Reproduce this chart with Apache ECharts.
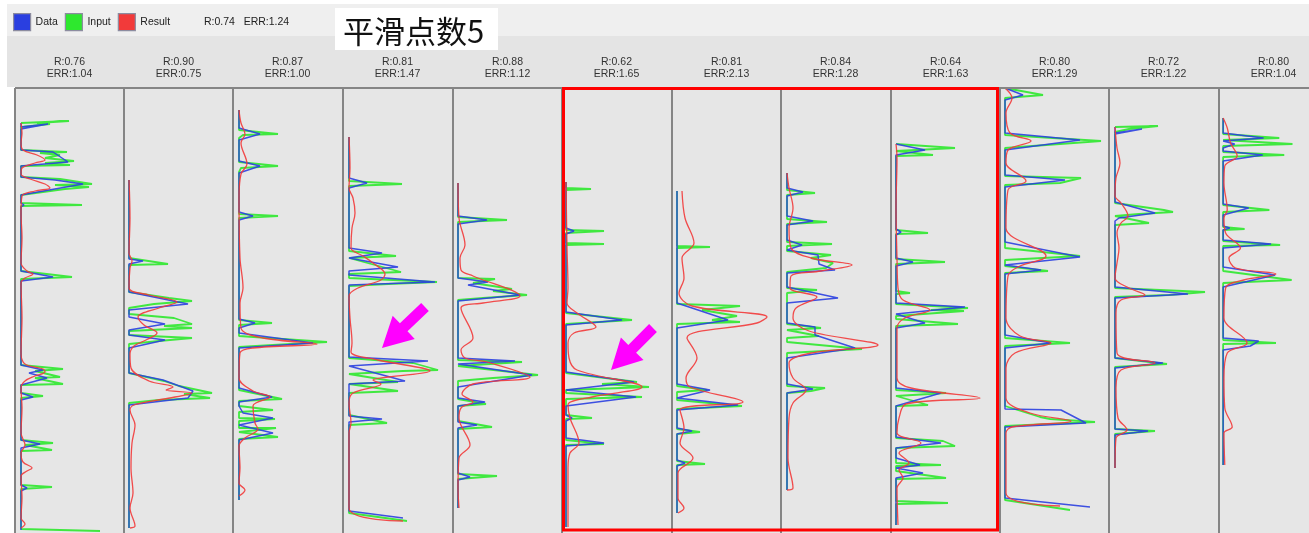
<!DOCTYPE html>
<html>
<head>
<meta charset="utf-8">
<script src="https://cdn.jsdelivr.net/npm/echarts@6/dist/echarts.min.js"></script>
<style>
  html, body { margin: 0; padding: 0; background: #ffffff; }
  #chart { width: 1309px; height: 533px; }
</style>
</head>
<body>
<div id="chart"></div>
<script>
// Legend names and the overall score shown in the header
const seriesNames = ['Data', 'Input', 'Result'];
const overallR = '0.74';
const overallErr = '1.24';
const smoothTitle = '平滑点数5';

// Per-well scores shown above each track
const panelR   = ['0.76', '0.90', '0.87', '0.81', '0.88', '0.62', '0.81', '0.84', '0.64', '0.80', '0.72', '0.80'];
const panelErr = ['1.04', '0.75', '1.00', '1.47', '1.12', '1.65', '2.13', '1.28', '1.63', '1.29', '1.22', '1.04'];

// Track curves as [value, depth] pairs (depth grows downward)
const data1 = [[6,35],[6,39],[33,36],[6,41],[6,62],[38,64],[53,74],[6,78],[6,89],[40,92],[68,96],[6,107],[6,115],[9,117],[6,119],[6,183],[38,189],[6,193],[6,277],[28,282],[14,285],[32,290],[6,297],[6,305],[18,309],[6,312],[6,352],[25,356],[6,360],[6,397],[12,400],[6,403],[6,442]];
const input1 = [[6,35],[54,33],[22,35],[35,36],[6,39],[6,41],[6,62],[52,64],[25,65],[45,67],[30,70],[59,73],[30,75],[55,77],[6,78],[6,89],[45,91],[77,96],[40,97],[74,99],[50,101],[6,107],[6,115],[67,117],[6,118],[6,183],[57,189],[6,191],[6,277],[48,281],[20,283],[45,289],[20,290],[48,296],[6,297],[6,305],[28,308],[6,310],[6,352],[38,355],[10,357],[37,362],[6,363],[6,397],[37,399],[6,401],[6,441],[85,443]];
const result1 = [[6,35],[7,45],[6,55],[8,62],[22,67],[30,72],[20,75],[7,80],[6,86],[15,91],[30,96],[35,100],[20,103],[7,108],[6,125],[7,150],[6,175],[12,183],[18,186],[10,190],[6,195],[7,230],[6,265],[10,276],[28,281],[30,284],[20,288],[10,293],[6,300],[7,320],[6,345],[10,357],[6,365],[8,374],[17,380],[12,383],[6,388],[7,410],[6,430],[10,436],[6,440]];

const data2 = [[5,92],[5,171],[19,173],[5,176],[5,204],[64,216],[5,222],[5,229],[41,236],[5,242],[5,247],[41,252],[5,260],[5,285],[39,292],[69,303],[64,310],[5,317],[5,440]];
const input2 = [[5,92],[5,170],[44,176],[5,177],[5,204],[45,210],[68,213],[30,216],[5,220],[5,226],[50,230],[68,236],[40,238],[68,240],[5,243],[5,247],[68,250],[35,253],[5,256],[5,285],[40,293],[55,298],[88,305],[60,306],[86,310],[35,312],[5,315],[5,440]];
const result2 = [[5,92],[6,130],[5,165],[8,173],[6,180],[5,200],[25,207],[53,214],[35,220],[14,229],[20,237],[33,245],[22,252],[10,258],[6,266],[7,280],[25,293],[49,299],[42,302],[68,305],[40,311],[10,317],[6,322],[11,337],[8,355],[7,380],[9,405],[6,420],[11,438],[6,440]];

const data3 = [[6,22],[6,40],[27,46],[6,52],[6,73],[27,78],[6,85],[6,124],[20,128],[6,132],[6,231],[22,235],[6,240],[6,245],[80,255],[6,260],[6,300],[39,309],[6,314],[6,318],[10,325],[40,330],[6,337],[40,345],[6,352],[6,412]];
const input3 = [[6,22],[6,42],[45,46],[10,47],[6,50],[6,74],[45,78],[8,80],[6,84],[6,126],[45,128],[6,130],[6,232],[39,235],[6,237],[6,248],[94,254],[40,257],[6,259],[6,302],[49,311],[6,313],[6,318],[40,322],[6,324],[6,330],[42,331],[6,333],[6,340],[43,340],[6,344],[6,346],[45,349],[6,351],[6,412]];
const result3 = [[6,22],[8,35],[12,46],[8,55],[14,76],[8,86],[6,110],[7,170],[10,200],[7,215],[8,240],[30,250],[84,256],[20,260],[7,265],[6,290],[20,303],[37,309],[20,318],[22,335],[25,341],[12,350],[6,358],[7,380],[6,395],[12,402],[6,408]];

const data4 = [[6,49],[6,90],[24,95],[6,100],[6,160],[39,165],[6,170],[55,179],[6,183],[6,187],[92,194],[6,197],[6,269],[85,273],[6,278],[62,293],[6,296],[6,328],[39,331],[6,334],[6,423],[60,430]];
const input4 = [[6,49],[6,93],[59,96],[6,98],[6,163],[53,168],[6,170],[58,184],[6,186],[6,190],[94,194],[45,196],[6,198],[6,270],[70,275],[95,282],[60,283],[6,286],[55,294],[6,296],[55,303],[6,305],[6,327],[44,335],[6,337],[6,425],[64,433]];
const result4 = [[6,49],[7,80],[6,100],[10,110],[12,125],[9,140],[8,160],[20,168],[30,175],[42,186],[38,192],[15,200],[6,208],[7,230],[9,255],[8,264],[35,272],[87,283],[45,289],[30,292],[38,296],[10,305],[6,315],[8,335],[6,345],[6,420],[60,433]];

const data5 = [[5,95],[5,128],[34,132],[5,136],[5,190],[35,194],[15,197],[67,207],[5,213],[5,270],[62,273],[5,276],[79,287],[5,299],[5,310],[32,314],[5,318],[5,334],[24,337],[5,340],[5,385],[17,389],[5,392],[5,420]];
const input5 = [[5,95],[5,129],[54,132],[5,134],[5,190],[42,191],[20,195],[59,201],[40,203],[74,207],[30,210],[5,212],[5,272],[69,274],[5,278],[85,287],[40,290],[5,293],[5,311],[33,316],[5,318],[5,333],[39,339],[5,341],[5,386],[44,388],[5,391],[5,420]];
const result5 = [[5,95],[6,130],[12,157],[7,170],[8,182],[20,188],[67,208],[30,215],[8,220],[20,250],[8,262],[12,270],[34,274],[77,289],[20,296],[9,306],[20,314],[8,320],[6,330],[17,357],[6,370],[5,400],[6,420]];

const data6 = [[4,94],[4,140],[12,143],[4,146],[4,224],[60,232],[4,237],[4,284],[72,294],[4,302],[74,309],[4,318],[4,327],[10,330],[4,333],[4,350],[42,355],[4,358],[4,439]];
const input6 = [[4,94],[4,100],[29,101],[4,102],[4,142],[42,143],[4,145],[4,155],[42,156],[4,157],[4,225],[70,232],[4,236],[4,285],[75,294],[40,296],[87,299],[4,302],[4,305],[80,309],[4,311],[4,327],[30,330],[4,331],[4,352],[42,356],[4,357],[4,439]];
const result6 = [[4,94],[5,160],[6,200],[5,215],[15,225],[34,239],[12,245],[6,255],[7,270],[15,282],[80,299],[30,309],[6,317],[8,330],[17,355],[8,365],[6,380],[6,439]];

const data7 = [[5,103],[5,215],[56,232],[5,240],[5,296],[38,302],[5,310],[66,317],[5,322],[5,340],[20,343],[5,346],[5,372],[13,375],[5,378],[5,425]];
const input7 = [[5,103],[5,158],[38,159],[5,160],[5,216],[68,218],[30,222],[65,228],[40,232],[68,234],[5,236],[5,298],[35,302],[5,304],[5,312],[70,318],[5,321],[5,341],[28,344],[5,346],[5,373],[33,376],[5,377],[5,425]];
const result7 = [[10,103],[13,130],[22,155],[10,170],[12,190],[7,205],[20,218],[95,229],[85,235],[15,250],[25,270],[14,290],[18,299],[71,314],[8,322],[12,340],[8,355],[21,370],[6,385],[6,410],[12,420],[6,425]];

const data8 = [[6,85],[6,100],[22,104],[6,108],[6,128],[32,133],[6,137],[6,152],[21,157],[6,162],[37,167],[38,176],[54,182],[6,185],[6,199],[57,210],[6,215],[6,235],[34,239],[34,247],[74,260],[6,270],[6,296],[32,301],[6,305],[6,402]];
const input8 = [[6,85],[6,102],[34,105],[6,107],[6,131],[46,134],[6,136],[6,154],[51,156],[6,158],[6,163],[50,167],[30,170],[52,175],[45,180],[6,184],[6,200],[36,202],[6,205],[6,236],[40,240],[6,242],[38,248],[6,250],[6,254],[81,261],[6,265],[6,298],[44,300],[30,303],[6,305],[6,402]];
const result8 = [[6,85],[8,100],[12,120],[8,140],[10,160],[30,170],[71,177],[40,183],[10,188],[9,200],[36,209],[15,220],[12,230],[28,243],[97,257],[30,265],[8,275],[12,290],[25,302],[12,315],[8,330],[7,370],[12,400],[6,402]];

const data9 = [[5,56],[5,58],[34,62],[5,67],[5,141],[10,144],[5,147],[5,170],[22,174],[5,178],[5,215],[74,219],[5,226],[34,235],[5,240],[5,300],[50,305],[5,318],[5,349],[50,355],[5,360],[5,370],[29,377],[5,380],[32,385],[5,390],[5,437]];
const input9 = [[5,56],[5,58],[64,60],[5,63],[42,67],[5,68],[5,142],[37,145],[5,146],[5,171],[54,174],[5,176],[5,203],[19,205],[5,206],[5,216],[77,220],[40,222],[73,223],[5,228],[5,231],[67,236],[5,238],[5,302],[55,305],[5,308],[37,317],[5,318],[5,350],[52,353],[64,358],[5,360],[5,375],[50,377],[5,378],[5,383],[55,390],[5,391],[5,413],[57,415],[5,416],[5,437]];
const result9 = [[5,56],[6,70],[5,120],[6,170],[7,200],[12,212],[39,222],[14,230],[6,240],[6,290],[20,300],[89,310],[15,316],[8,330],[6,345],[30,355],[8,365],[18,375],[8,382],[12,390],[6,400],[7,437]];

const data10 = [[5,0],[23,7],[5,12],[5,45],[80,52],[5,62],[5,87],[65,92],[5,99],[5,154],[80,169],[5,177],[41,182],[5,186],[5,247],[51,255],[5,260],[5,321],[61,322],[86,335],[5,339],[5,410],[90,419]];
const input10 = [[5,0],[43,7],[5,10],[5,47],[101,53],[60,56],[5,60],[5,88],[81,90],[60,95],[5,97],[5,160],[80,168],[5,172],[5,178],[48,183],[5,185],[5,250],[70,255],[5,258],[5,318],[40,329],[50,331],[95,334],[5,338],[5,412],[70,422]];
const result10 = [[5,0],[12,10],[6,25],[10,45],[31,53],[8,62],[6,75],[26,93],[8,102],[6,140],[46,168],[20,178],[8,188],[6,230],[20,248],[51,255],[15,265],[6,280],[6,310],[30,325],[71,333],[12,339],[6,345],[6,405],[60,418]];

const data11 = [[6,39],[6,45],[33,41],[6,46],[6,114],[46,125],[10,130],[6,133],[6,199],[79,206],[6,210],[6,270],[54,275],[6,280],[6,341],[39,343],[6,347],[6,380]];
const input11 = [[6,39],[49,38],[20,41],[6,44],[6,115],[55,122],[64,124],[30,126],[6,128],[40,135],[6,137],[6,200],[96,204],[60,207],[6,209],[6,270],[58,276],[6,279],[6,341],[46,343],[6,346],[6,380]];
const result11 = [[6,39],[8,60],[11,75],[7,90],[6,108],[12,115],[19,128],[12,135],[8,145],[10,160],[8,175],[6,190],[20,200],[36,207],[12,212],[7,225],[8,265],[46,275],[12,282],[7,300],[9,330],[18,342],[7,350],[6,380]];

const data12 = [[5,30],[5,45],[54,50],[5,53],[19,56],[5,60],[5,63],[53,67],[5,73],[5,116],[36,120],[5,127],[5,138],[13,140],[5,142],[5,152],[63,156],[5,160],[5,179],[68,187],[5,199],[5,250],[48,253],[38,258],[5,262],[5,377]];
const input12 = [[5,30],[5,46],[73,50],[5,52],[89,56],[5,58],[5,64],[79,67],[5,69],[5,117],[61,122],[5,124],[5,139],[31,141],[5,142],[5,153],[74,157],[5,158],[5,183],[88,192],[5,195],[5,252],[69,255],[5,256],[5,377]];
const result12 = [[5,30],[10,40],[14,55],[22,68],[7,78],[6,95],[10,122],[6,130],[8,145],[26,160],[12,170],[20,180],[69,186],[30,192],[8,200],[6,230],[34,255],[10,265],[6,290],[7,320],[16,339],[6,345],[7,377]];

const tracks = [
  [data1, input1, result1], [data2, input2, result2], [data3, input3, result3],
  [data4, input4, result4], [data5, input5, result5], [data6, input6, result6],
  [data7, input7, result7], [data8, input8, result8], [data9, input9, result9],
  [data10, input10, result10], [data11, input11, result11], [data12, input12, result12]
];

// Layout of the track strip (open at the bottom edge)
const trackLefts = [15, 124, 233, 343, 453, 562, 672, 781, 891, 1000, 1109, 1219];
const trackWidth = 109;
const trackTop = 88;
const trackHeight = 445;
const VALUE_MAX = 109;
const DEPTH_MAX = 445;

const COLORS = { Data: '#2a3fe0', Input: '#2ee82e', Result: '#f23a3a' };
const FONT = 'Liberation Sans, Arial, sans-serif';
const FRAME = '#858585';

const grids = [], xAxes = [], yAxes = [], series = [];
tracks.forEach((t, i) => {
  grids.push({
    left: trackLefts[i], top: trackTop, width: trackWidth, height: trackHeight,
    show: true, backgroundColor: '#e6e6e6', borderWidth: 0
  });
  xAxes.push({ type: 'value', gridIndex: i, min: 0, max: VALUE_MAX, show: false });
  yAxes.push({ type: 'value', gridIndex: i, min: 0, max: DEPTH_MAX, inverse: true, show: false });
  const [d, inp, res] = t;
  series.push({
    name: 'Input', type: 'line', xAxisIndex: i, yAxisIndex: i, data: inp,
    showSymbol: false, symbol: 'none', itemStyle: { color: COLORS.Input },
    lineStyle: { color: COLORS.Input, width: 1.8, opacity: 0.9 }
  });
  series.push({
    name: 'Data', type: 'line', xAxisIndex: i, yAxisIndex: i, data: d,
    showSymbol: false, symbol: 'none', itemStyle: { color: COLORS.Data },
    lineStyle: { color: COLORS.Data, width: 1.5, opacity: 0.9 }
  });
  series.push({
    name: 'Result', type: 'line', xAxisIndex: i, yAxisIndex: i, data: res,
    showSymbol: false, symbol: 'none', smooth: 0.35, itemStyle: { color: COLORS.Result },
    lineStyle: { color: COLORS.Result, width: 1.3, opacity: 0.9 }
  });
});

// Header backgrounds, track frame lines and per-track score labels
const headerGraphics = [
  { type: 'rect', id: 'topBand', shape: { x: 7, y: 4, width: 1302, height: 32 }, style: { fill: '#efefef' }, silent: true },
  { type: 'rect', id: 'scoreBand', shape: { x: 7, y: 36, width: 1302, height: 51 }, style: { fill: '#e4e4e4' }, silent: true },
  { type: 'rect', id: 'titleBox', shape: { x: 335, y: 8, width: 163, height: 42 }, style: { fill: '#ffffff' }, silent: true },
  { type: 'text', id: 'titleText', x: 343, y: 31, style: { text: smoothTitle, fontSize: 31, fontFamily: 'Noto Sans CJK SC', fill: '#111', textVerticalAlign: 'middle' } },
  { type: 'text', id: 'overallText', x: 204, y: 22, style: { text: 'R:' + overallR + '   ERR:' + overallErr, fontSize: 10.5, fontFamily: FONT, fill: '#222', textVerticalAlign: 'middle' } },
  { type: 'line', id: 'frameTop', z: 50, shape: { x1: trackLefts[0], y1: trackTop, x2: 1309, y2: trackTop }, style: { stroke: FRAME, lineWidth: 2 } }
];
trackLefts.forEach((x, i) => {
  headerGraphics.push({
    type: 'line', id: 'frame' + i, z: 50,
    shape: { x1: x, y1: trackTop, x2: x, y2: trackTop + trackHeight },
    style: { stroke: FRAME, lineWidth: 2 }
  });
  headerGraphics.push({
    type: 'text', id: 'score' + i, x: x + trackWidth / 2, y: 56,
    style: { text: 'R:' + panelR[i] + '\nERR:' + panelErr[i], fontSize: 10.5, lineHeight: 12, fontFamily: FONT, fill: '#333', textAlign: 'center' }
  });
});

const chart = echarts.init(document.getElementById('chart'), null, { renderer: 'canvas' });
chart.setOption({
  animation: false,
  backgroundColor: '#ffffff',
  grid: grids, xAxis: xAxes, yAxis: yAxes, series: series,
  legend: {
    data: seriesNames, left: 13, top: 13, padding: 0, icon: 'rect', itemWidth: 17, itemHeight: 17, itemGap: 7,
    itemStyle: { borderColor: '#8c8ca0', borderWidth: 1.2 },
    textStyle: { fontSize: 10.5, fontFamily: FONT, color: '#222' }
  },
  graphic: headerGraphics
});

// Highlight box around tracks 6-9 and the two pointer arrows, placed in track coordinates
const highlight = { from: 5, to: 8, topLeft: [1.5, 0.5], bottomRight: [106.5, 442] };
const pointers = [
  { grid: 3, tip: [39, 260], tail: [82, 219] },
  { grid: 5, tip: [49, 282], tail: [91, 240] }
];

function arrowPoints(tip, tail) {
  const dx = tail[0] - tip[0], dy = tail[1] - tip[1];
  const len = Math.hypot(dx, dy);
  const ux = dx / len, uy = dy / len, nx = -uy, ny = ux;
  const headLen = 30, headHalf = 16, shaftHalf = 5.5;
  const bx = tip[0] + ux * headLen, by = tip[1] + uy * headLen;
  return [
    tip,
    [bx + nx * headHalf, by + ny * headHalf],
    [bx + nx * shaftHalf, by + ny * shaftHalf],
    [tail[0] + nx * shaftHalf, tail[1] + ny * shaftHalf],
    [tail[0] - nx * shaftHalf, tail[1] - ny * shaftHalf],
    [bx - nx * shaftHalf, by - ny * shaftHalf],
    [bx - nx * headHalf, by - ny * headHalf]
  ];
}

const p0 = chart.convertToPixel({ gridIndex: highlight.from }, highlight.topLeft);
const p1 = chart.convertToPixel({ gridIndex: highlight.to }, highlight.bottomRight);
const overlay = [{
  type: 'rect', id: 'highlightBox', z: 100,
  shape: { x: p0[0], y: p0[1], width: p1[0] - p0[0], height: p1[1] - p0[1] },
  style: { fill: 'none', stroke: '#ff0000', lineWidth: 3 }
}];
pointers.forEach((p, k) => {
  const tip = chart.convertToPixel({ gridIndex: p.grid }, p.tip);
  const tail = chart.convertToPixel({ gridIndex: p.grid }, p.tail);
  overlay.push({
    type: 'polygon', id: 'pointer' + k, z: 100,
    shape: { points: arrowPoints(tip, tail) },
    style: { fill: '#ff00ff' }
  });
});
chart.setOption({ graphic: headerGraphics.concat(overlay) });
</script>
</body>
</html>
